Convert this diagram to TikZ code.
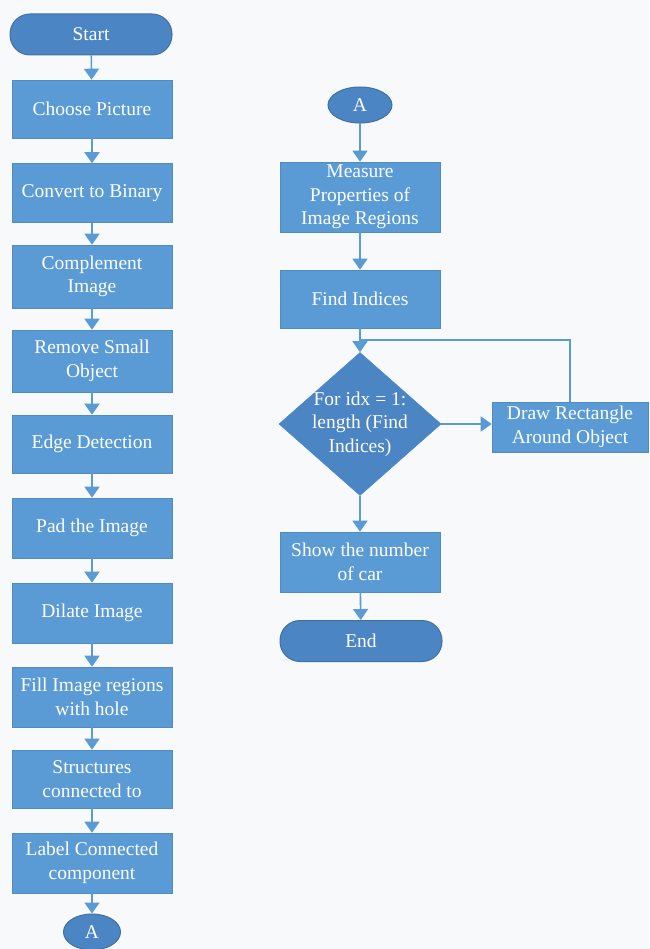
\documentclass[tikz,border=0pt]{standalone}
\usepackage{fontspec}
\setmainfont{Liberation Serif}
\usetikzlibrary{shapes.geometric,arrows.meta}
\definecolor{boxblue}{RGB}{91,155,213}
\definecolor{termblue}{RGB}{76,133,196}
\definecolor{edgeblue}{RGB}{65,113,160}
\definecolor{linkblue}{RGB}{91,155,213}
\definecolor{bgcol}{RGB}{248,249,251}
\tikzset{
  txt/.style={text=white,font=\fontsize{19.5}{23.5}\selectfont,align=center,inner sep=0pt},
  procbox/.style={txt,rectangle,fill=boxblue,draw=boxblue!90!black,line width=0.6pt,minimum width=160pt,minimum height=#1},
  procbox/.default=60pt,
  terminal/.style={txt,rectangle,rounded corners=20pt,fill=termblue,draw=edgeblue,line width=1pt,minimum width=162pt,minimum height=41pt},
  connector/.style={txt,ellipse,fill=termblue,draw=edgeblue,line width=1pt,minimum width=#1,minimum height=36pt},
  decision/.style={diamond,fill=termblue,draw=termblue,line width=0.6pt,minimum width=162pt,minimum height=143pt,inner sep=0pt},
  link/.style={draw=linkblue,line width=1.6pt,-{Triangle[width=15pt,length=11pt]}},
  plainlink/.style={draw=linkblue,line width=1.6pt}
}
\begin{document}
\begin{tikzpicture}[x=1pt,y=-1pt]
\fill[bgcol] (0,0) rectangle (649,949);
\path[use as bounding box] (0,0) rectangle (649,949);
% left column
\node[terminal] (start) at (91,34.5) {Start};
\node[procbox=58pt] (b1) at (92,109) {Choose Picture};
\node[procbox=59pt] (b2) at (92,193) {Convert to Binary};
\node[procbox=63pt] (b3) at (92,276.5) {Complement\\Image};
\node[procbox=62pt] (b4) at (92,361) {Remove Small\\Object};
\node[procbox=58pt] (b5) at (92,444) {Edge Detection};
\node[procbox=60pt] (b6) at (92,528) {Pad the Image};
\node[procbox=60pt] (b7) at (92,613) {Dilate Image};
\node[procbox=60pt] (b8) at (92,697) {Fill Image regions\\with hole};
\node[procbox=58pt] (b9) at (92,779) {Structures\\connected to};
\node[procbox=60pt] (b10) at (92,863) {Label Connected\\component};
\node[connector=57pt] (a1) at (92,932) {A};
\draw[link] (start) -- (b1);
\draw[link] (b1) -- (b2);
\draw[link] (b2) -- (b3);
\draw[link] (b3) -- (b4);
\draw[link] (b4) -- (b5);
\draw[link] (b5) -- (b6);
\draw[link] (b6) -- (b7);
\draw[link] (b7) -- (b8);
\draw[link] (b8) -- (b9);
\draw[link] (b9) -- (b10);
\draw[link] (b10) -- (a1);
% right column
\node[connector=64pt] (a2) at (360,105) {A};
\node[procbox=70pt] (m) at (360,197) {Measure\\Properties of\\Image Regions};
\node[procbox=58pt] (f) at (360,299) {Find Indices};
\node[decision] (d) at (360,424) {};
\node[txt] (dt) at (360,424) {For idx = 1:\\length (Find\\Indices)};
\node[procbox=50pt,minimum width=156pt] (r) at (570,427) {Draw Rectangle\\Around Object};
\node[procbox=60pt] (s) at (360,562) {Show the number\\of car};
\node[terminal] (e) at (361,641) {End};
\coordinate (j) at (360,340);
\draw[link] (a2) -- (m);
\draw[link] (m) -- (f);
\draw[link] (f) -- (d);
\draw[link] (d.east) -- (r.west |- d.east);
\draw[plainlink] (r.north) |- (j);
\draw[link] (d) -- (s);
\draw[link] (s) -- (e);
\end{tikzpicture}
\end{document}
